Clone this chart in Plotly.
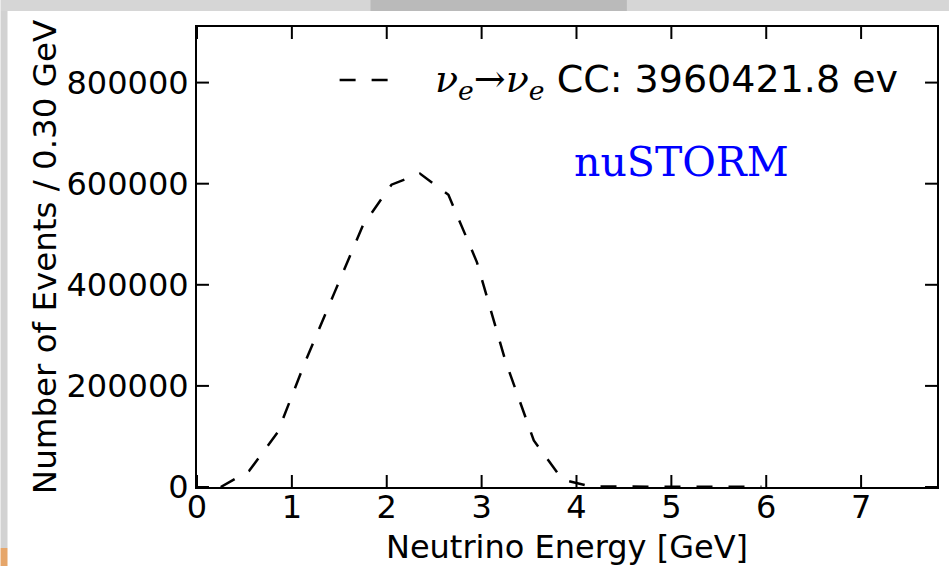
import plotly.graph_objects as go

# nu_e -> nu_e charged-current spectrum, 0.30 GeV bins
energy_gev = [0.25, 0.55, 0.85, 1.15, 1.45, 1.75, 2.05, 2.35, 2.65, 2.95,
              3.25, 3.55, 3.85, 4.15, 4.45, 4.75, 5.05, 5.35, 5.65, 5.95]
events = [0, 32000, 108000, 252000, 385000, 518000, 598000, 620000, 578000, 445000,
          250000, 92000, 15000, 800, 800, 700, 700, 600, 600, 500]

x_ticks = [0, 1, 2, 3, 4, 5, 6, 7]
y_ticks = [0, 200000, 400000, 600000, 800000]
x_range = [0, 7.8]
y_range = [0, 910000]
total_events = 3960421.8
experiment = "nuSTORM"

W, H = 951, 566
ML, MR, MT, MB = 197, 12, 27, 79
PW, PH = W - ML - MR, H - MT - MB
TICK_LEN = 12


def px(x):
    return (x - ML) / PW


def py(y):
    return (H - MB - y) / PH


DASH = "16px,16px"

fig = go.Figure()
fig.add_trace(go.Scatter(
    x=energy_gev, y=events, mode="lines",
    line=dict(color="black", width=2.5, dash=DASH),
    showlegend=False, hoverinfo="x+y",
))

# inward tick marks on all four sides of the frame
dy = TICK_LEN / PH * (y_range[1] - y_range[0])
dx = TICK_LEN / PW * (x_range[1] - x_range[0])
tx, ty = [], []
for t in x_ticks:
    tx += [t, t, None, t, t, None]
    ty += [y_range[0], y_range[0] + dy, None, y_range[1] - dy, y_range[1], None]
for t in y_ticks:
    tx += [x_range[0], x_range[0] + dx, None, x_range[1] - dx, x_range[1], None]
    ty += [t, t, None, t, t, None]
fig.add_trace(go.Scatter(
    x=tx, y=ty, mode="lines", line=dict(color="black", width=2, simplify=False),
    showlegend=False, hoverinfo="skip", cliponaxis=False,
))

axis_common = dict(
    ticks="", showline=True, linewidth=2, linecolor="black", mirror=True,
    showgrid=False, zeroline=False, layer="above traces",
    tickfont=dict(family="DejaVu Sans", size=32, color="black"),
)

fig.update_xaxes(
    range=x_range, tickmode="array", tickvals=x_ticks, automargin=False,
    ticklabelstandoff=-9,
    title=dict(text="Neutrino Energy [GeV]",
               font=dict(family="DejaVu Sans", size=32, color="black")),
    **axis_common,
)
fig.update_yaxes(
    range=y_range, tickmode="array", tickvals=y_ticks, tickformat="d",
    automargin=True,
    title=dict(text="Number of Events / 0.30 GeV",
               font=dict(family="DejaVu Sans", size=32.5, color="black"), standoff=0),
    **axis_common,
)

# legend: dashed key + label
fig.add_shape(type="line", xref="paper", yref="paper",
              x0=px(340), x1=px(392), y0=py(80), y1=py(80),
              line=dict(color="black", width=2.5, dash=DASH))
label = ('<span style="font-family:DejaVu Serif"><i>ν<sub>e</sub></i>→'
         '<i>ν<sub>e</sub></i></span> CC: %.1f ev' % total_events)
fig.add_annotation(text=label, xref="paper", yref="paper",
                   x=px(902), y=py(82), xanchor="right", yanchor="middle",
                   showarrow=False,
                   font=dict(family="DejaVu Sans", size=38, color="black"))

fig.add_annotation(text=experiment, xref="paper", yref="paper",
                   x=px(683), y=py(162), xanchor="center", yanchor="middle",
                   showarrow=False,
                   font=dict(family="DejaVu Serif", size=41, color="#0000ff"))

# slide frame around the figure
frame = [
    (0, W, 0, 11, "#d6d6d6"),
    (371, 628, 0, 11, "#bababa"),
    (0, 7, 11, 548, "#d2d2d2"),
    (0, 7, 548, H, "#e6a66a"),
]
for x0, x1, y0, y1, c in frame:
    fig.add_shape(type="rect", xref="paper", yref="paper", layer="below",
                  x0=px(x0), x1=px(x1), y0=py(y1), y1=py(y0),
                  line=dict(width=0), fillcolor=c)

fig.update_layout(
    width=W, height=H,
    margin=dict(l=ML, r=MR, t=MT, b=MB),
    paper_bgcolor="white", plot_bgcolor="white",
    font=dict(family="DejaVu Sans", color="black"),
)

fig.write_html("out.html")
